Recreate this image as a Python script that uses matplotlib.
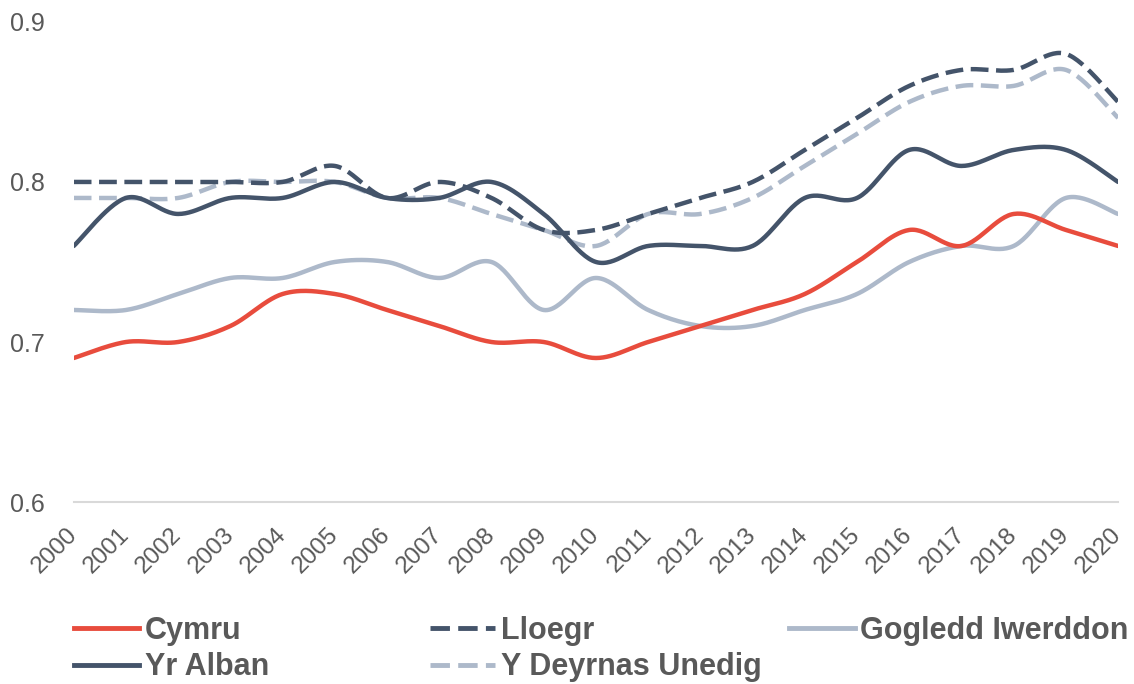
import matplotlib
matplotlib.use("Agg")
import matplotlib.pyplot as plt
import numpy as np
from matplotlib.lines import Line2D

years = list(range(2000, 2021))

cymru = [0.69, 0.70, 0.70, 0.71, 0.73, 0.73, 0.72, 0.71, 0.70, 0.70, 0.69,
         0.70, 0.71, 0.72, 0.73, 0.75, 0.77, 0.76, 0.78, 0.77, 0.76]
lloegr = [0.80, 0.80, 0.80, 0.80, 0.80, 0.81, 0.79, 0.80, 0.79, 0.77, 0.77,
          0.78, 0.79, 0.80, 0.82, 0.84, 0.86, 0.87, 0.87, 0.88, 0.85]
gogledd_iwerddon = [0.72, 0.72, 0.73, 0.74, 0.74, 0.75, 0.75, 0.74, 0.75, 0.72, 0.74,
                    0.72, 0.71, 0.71, 0.72, 0.73, 0.75, 0.76, 0.76, 0.79, 0.78]
yr_alban = [0.76, 0.79, 0.78, 0.79, 0.79, 0.80, 0.79, 0.79, 0.80, 0.78, 0.75,
            0.76, 0.76, 0.76, 0.79, 0.79, 0.82, 0.81, 0.82, 0.82, 0.80]
y_deyrnas_unedig = [0.79, 0.79, 0.79, 0.80, 0.80, 0.80, 0.79, 0.79, 0.78, 0.77, 0.76,
                    0.78, 0.78, 0.79, 0.81, 0.83, 0.85, 0.86, 0.86, 0.87, 0.84]

RED = "#E84C3D"
NAVY = "#44546A"
LIGHT = "#ADB9CA"
TEXT = "#595959"


def smooth(x, y, steps=30):
    """Excel-style smoothed line (Catmull-Rom as cubic Bezier)."""
    p = np.column_stack([x, y]).astype(float)
    out = [p[0]]
    t = np.linspace(0, 1, steps)[1:, None]
    for i in range(len(p) - 1):
        p0 = p[i - 1] if i > 0 else p[i]
        p1, p2 = p[i], p[i + 1]
        p3 = p[i + 2] if i + 2 < len(p) else p[i + 1]
        c1 = p1 + (p2 - p0) / 6
        c2 = p2 - (p3 - p1) / 6
        seg = ((1 - t) ** 3 * p1 + 3 * (1 - t) ** 2 * t * c1
               + 3 * (1 - t) * t ** 2 * c2 + t ** 3 * p2)
        out.extend(seg)
    out = np.array(out)
    return out[:, 0], out[:, 1]


plt.rcParams['font.family'] = ['Liberation Sans', 'DejaVu Sans']

fig = plt.figure(figsize=(11.34, 6.84), dpi=100)
ax = fig.add_axes([0.065, 0.266, 0.921, 0.702])

dash = (0, (4, 1.7))
series = [
    ("Cymru", cymru, RED, "-"),
    ("Lloegr", lloegr, NAVY, dash),
    ("Gogledd Iwerddon", gogledd_iwerddon, LIGHT, "-"),
    ("Yr Alban", yr_alban, NAVY, "-"),
    ("Y Deyrnas Unedig", y_deyrnas_unedig, LIGHT, dash),
]

# draw order: lighter ones behind
for name, vals, col, ls in [series[2], series[0], series[4], series[1], series[3]]:
    sx, sy = smooth(years, vals)
    ax.plot(sx, sy, color=col, lw=3.2, linestyle=ls, solid_capstyle='round')

ax.set_xlim(2000, 2020)
ax.set_ylim(0.6, 0.9)
ax.set_yticks([0.6, 0.7, 0.8, 0.9])
ax.set_yticklabels(["0.6", "0.7", "0.8", "0.9"])
ax.set_xticks(years)
ax.set_xticklabels([str(y) for y in years], rotation=45, ha='right',
                   va='center', rotation_mode='anchor', fontsize=17.5)
ax.tick_params(axis='both', length=0, colors=TEXT)
ax.tick_params(axis='y', labelsize=18, pad=46)
ax.tick_params(axis='x', pad=21)
for lab in ax.get_yticklabels():
    lab.set_horizontalalignment('left')

for s in ['top', 'right', 'left']:
    ax.spines[s].set_visible(False)
ax.spines['bottom'].set_color("#D9D9D9")
ax.spines['bottom'].set_linewidth(1.5)

# legend: three equally spaced columns like the original
columns = [[series[0], series[3]], [series[1], series[4]], [series[2]]]
col_x = [0.065, 0.379, 0.696]
for cx, entries in zip(col_x, columns):
    handles = [Line2D([], [], color=c, lw=3.5, linestyle=ls) for _, _, c, ls in entries]
    labels = [n for n, _, _, _ in entries]
    fig.legend(handles, labels, loc='upper left', bbox_to_anchor=(cx, 0.100),
               frameon=False, ncol=1, handlelength=2.15, handletextpad=0.17,
               labelspacing=0.22, borderaxespad=0, borderpad=0,
               prop={'size': 22, 'weight': 'bold'}, labelcolor=TEXT)

fig.savefig("out.png", dpi=100)
